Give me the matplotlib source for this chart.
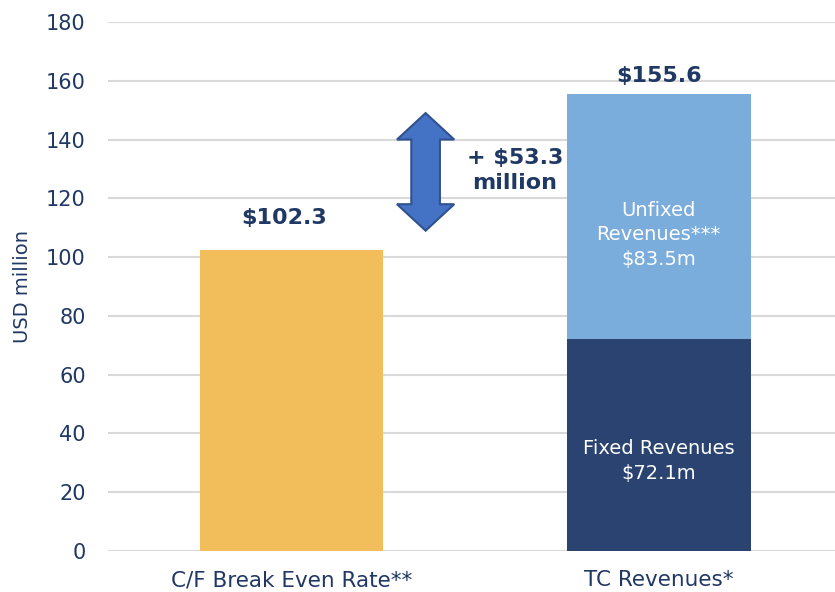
import matplotlib
matplotlib.use("Agg")
import matplotlib.pyplot as plt
from matplotlib.patches import Polygon

categories = ["C/F Break Even Rate**", "TC Revenues*"]
break_even = [102.3, 0]
fixed = [0, 72.1]
unfixed = [0, 83.5]
totals = [102.3, 155.6]
difference = 53.3
yticks = [0, 20, 40, 60, 80, 100, 120, 140, 160, 180]

txt = "#203864"
orange = "#F2BD5B"
navy = "#2B4370"
light = "#7BADDC"

fig = plt.figure(figsize=(8.35, 5.92), dpi=100)
ax = fig.add_axes([108/835, 1 - 551/592, (835-108)/835, (551-22)/592])

x = [0, 1]
w = 0.5
ax.bar(x[0], break_even[0], width=w, color=orange, zorder=2)
ax.bar(x[1], fixed[1], width=w, color=navy, zorder=2)
ax.bar(x[1], unfixed[1], bottom=fixed[1], width=w, color=light, zorder=2)

ax.set_xlim(-0.5, 1.48)
ax.set_ylim(0, 180)
ax.set_yticks(yticks)
ax.set_yticklabels([str(v) for v in yticks], fontsize=15, color=txt)
ax.set_xticks(x)
ax.set_xticklabels(categories, fontsize=15.5, color=txt)
ax.tick_params(axis="y", length=0, pad=16)
ax.tick_params(axis="x", length=0, pad=14)
ax.yaxis.grid(True, color="#D9D9D9", linewidth=1.5, zorder=0)
ax.set_axisbelow(True)
for s in ax.spines.values():
    s.set_visible(False)
ax.set_ylabel("USD million", fontsize=14, color=txt, labelpad=10)

# value labels
ax.text(x[0] - 0.02, totals[0] + 11, f"${totals[0]:.1f}", ha="center", va="center",
        fontsize=16, fontweight="bold", color=txt)
ax.text(x[1], totals[1] + 6, f"${totals[1]:.1f}", ha="center", va="center",
        fontsize=16, fontweight="bold", color=txt)
ax.text(x[1], fixed[1] + unfixed[1] / 2 - 6.3, f"Unfixed\nRevenues***\n${unfixed[1]:.1f}m",
        ha="center", va="center", fontsize=14, color="white", linespacing=1.38)
ax.text(x[1], fixed[1] / 2 - 5.4, f"Fixed Revenues\n${fixed[1]:.1f}m",
        ha="center", va="center", fontsize=14, color="white", linespacing=1.38)

# double arrow
cx = 0.365
ytop, ybot = 149, 109
hw, sw, hl = 0.078, 0.039, 9
pts = [
    (cx, ytop), (cx + hw, ytop - hl), (cx + sw, ytop - hl), (cx + sw, ybot + hl),
    (cx + hw, ybot + hl), (cx, ybot), (cx - hw, ybot + hl), (cx - sw, ybot + hl),
    (cx - sw, ytop - hl), (cx - hw, ytop - hl),
]
ax.add_patch(Polygon(pts, closed=True, facecolor="#4472C4", edgecolor="#2F528F",
                     linewidth=1.5, zorder=3))
ax.text(0.608, 129.5, f"+ ${difference:.1f}\nmillion", ha="center", va="center",
        fontsize=16, fontweight="bold", color=txt, linespacing=1.35)

fig.savefig("out.png", dpi=100)
